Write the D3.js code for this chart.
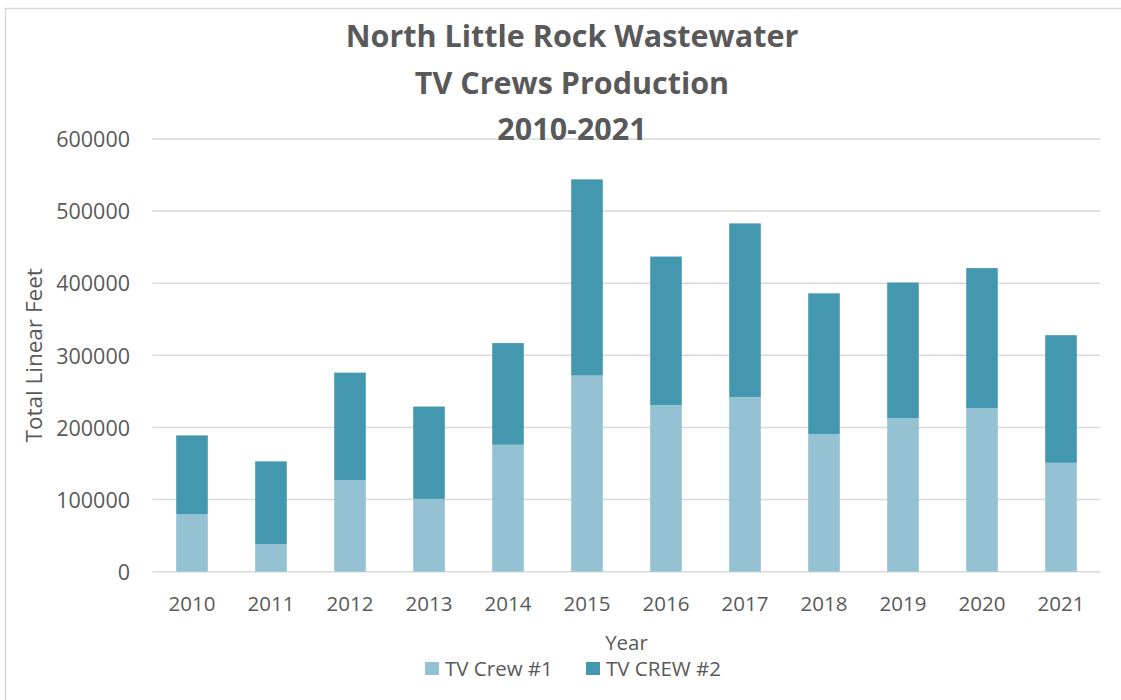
<!DOCTYPE html>
<html>
<head>
<meta charset="utf-8">
<script src="https://cdn.jsdelivr.net/npm/d3@7"></script>
<style>
  html, body { margin: 0; padding: 0; background: #ffffff; }
  svg { display: block; font-family: "Open Sans", "Noto Sans", sans-serif; }
</style>
</head>
<body>
<svg id="chart" width="1121" height="700"></svg>
<script>
const titleLines = ["North Little Rock Wastewater", "TV Crews Production", "2010-2021"];
const years = ["2010","2011","2012","2013","2014","2015","2016","2017","2018","2019","2020","2021"];
const crew1 = [80000, 38000, 127000, 101000, 176000, 272000, 231000, 242000, 191000, 213000, 227000, 151000];
const crew2 = [109000, 115000, 149000, 128000, 141000, 272000, 206000, 241000, 195000, 188000, 194000, 177000];
const seriesNames = ["TV Crew #1", "TV CREW #2"];
const yTicks = [0, 100000, 200000, 300000, 400000, 500000, 600000];
const xTitle = "Year";
const yTitle = "Total Linear Feet";

const colors = ["#94c2d3", "#4398b0"];
const textColor = "#595959";

const svg = d3.select("#chart");
const W = 1121, H = 700;
const plot = { left: 152.5, right: 1100.5, top: 139, bottom: 571.7 };

// chart border (left and top visible)
svg.append("path")
  .attr("d", `M5.5,${H} L5.5,8.5 L${W},8.5`)
  .attr("fill", "none").attr("stroke", "#d9d9d9").attr("stroke-width", 1.5);

const x = d3.scaleBand().domain(years).range([plot.left, plot.right]).paddingInner(0.6).paddingOuter(0.3);
const y = d3.scaleLinear().domain([0, 600000]).range([plot.bottom, plot.top]);

// gridlines
svg.append("g").selectAll("line").data(yTicks).join("line")
  .attr("x1", plot.left).attr("x2", plot.right)
  .attr("y1", d => y(d)).attr("y2", d => y(d))
  .attr("stroke", "#d9d9d9").attr("stroke-width", 1.5);

// stacked data
const table = years.map((yr, i) => ({ year: yr, c1: crew1[i], c2: crew2[i] }));
const stack = d3.stack().keys(["c1", "c2"])(table);

svg.append("g").selectAll("g").data(stack).join("g")
  .attr("fill", (d, i) => colors[i])
  .selectAll("rect").data(d => d).join("rect")
  .attr("x", d => x(d.data.year))
  .attr("width", x.bandwidth())
  .attr("y", d => y(d[1]))
  .attr("height", d => y(d[0]) - y(d[1]));

// y axis labels
const yAxis = d3.axisLeft(y).tickValues(yTicks).tickFormat(d3.format("d")).tickSize(0).tickPadding(0);
const yg = svg.append("g").attr("transform", `translate(130,0)`).call(yAxis);
yg.select(".domain").remove();
yg.selectAll("text").attr("fill", textColor).style("font-size", "21.5px").attr("dy", "0.36em")
  .style("font-family", "'Open Sans', sans-serif");

// x axis labels
const xAxis = d3.axisBottom(x).tickSize(0).tickPadding(0);
const xg = svg.append("g").attr("transform", `translate(0,${plot.bottom})`).call(xAxis);
xg.select(".domain").remove();
xg.selectAll("text").attr("fill", textColor).style("font-size", "20.5px").attr("dy", null).attr("y", 39)
  .style("font-family", "'Open Sans', sans-serif");

// axis titles
svg.append("text").text(xTitle)
  .attr("x", (plot.left + plot.right) / 2).attr("y", 650)
  .attr("text-anchor", "middle").attr("fill", textColor).style("font-size", "20.5px");

svg.append("text").text(yTitle)
  .attr("transform", `translate(42,${(plot.top + plot.bottom) / 2}) rotate(-90)`)
  .attr("text-anchor", "middle").attr("fill", textColor).style("font-size", "22.5px");

// title
const titleY = [47, 94, 140];
svg.append("g").selectAll("text").data(titleLines).join("text")
  .text(d => d)
  .attr("x", 572).attr("y", (d, i) => titleY[i])
  .attr("text-anchor", "middle").attr("fill", textColor)
  .style("font-size", "30.5px").style("font-weight", "bold");

// legend
const legendX = [425, 586];
const lg = svg.append("g").selectAll("g").data(seriesNames).join("g")
  .attr("transform", (d, i) => `translate(${legendX[i]},0)`);
lg.append("rect").attr("x", 0).attr("y", 662).attr("width", 14).attr("height", 13)
  .attr("fill", (d, i) => colors[i]);
lg.append("text").text(d => d).attr("x", 20).attr("y", 675.5)
  .attr("fill", textColor).style("font-size", "20.5px");
</script>
</body>
</html>
